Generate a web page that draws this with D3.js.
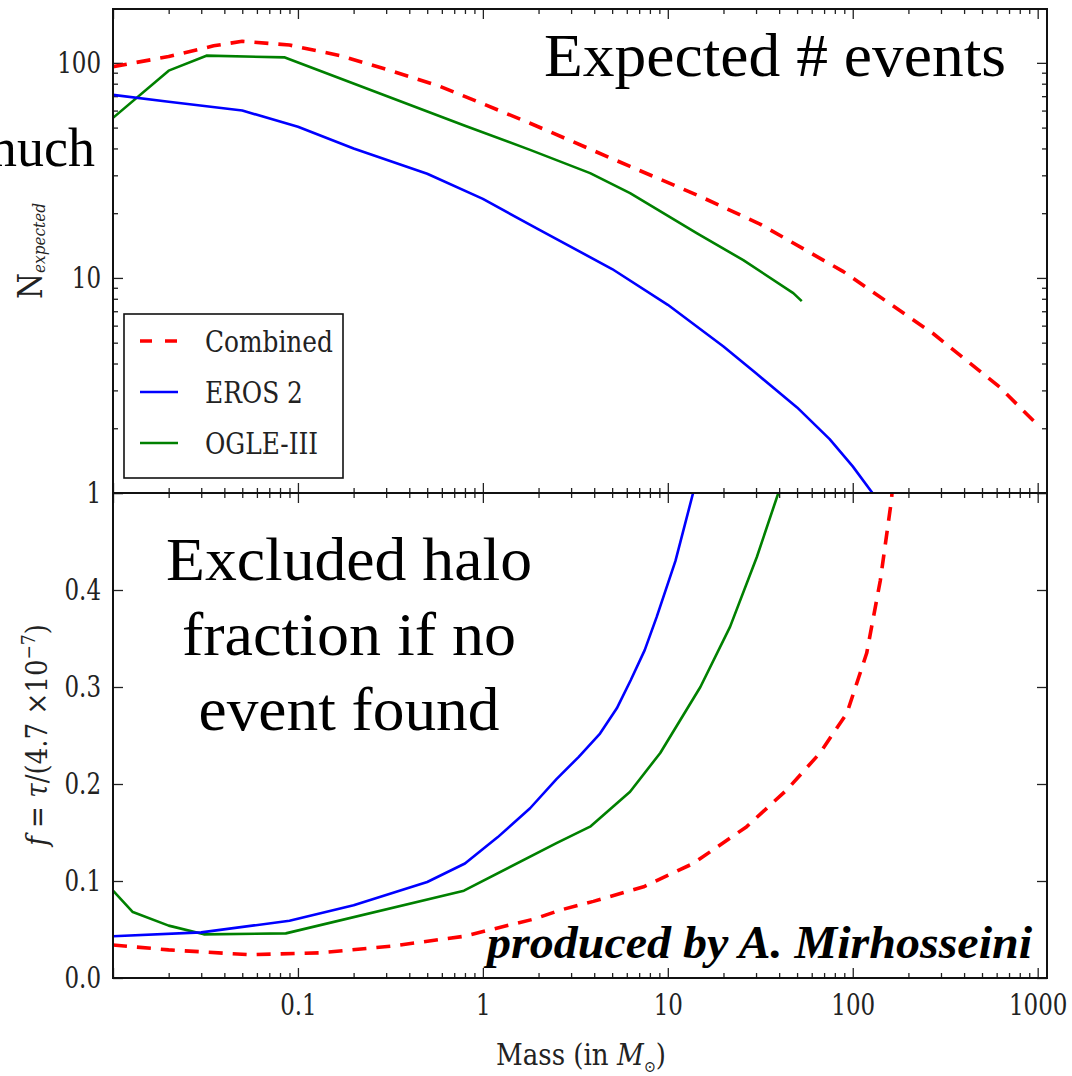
<!DOCTYPE html>
<html>
<head>
<meta charset="utf-8">
<script src="https://cdn.jsdelivr.net/npm/d3@7"></script>
<style>
  body { margin: 0; background: #fff; }
  svg { display: block; }
</style>
</head>
<body>
<script>
'use strict';

// page size
let width = 1072,
  height = 1076;

// ---- data ----
// top panel: expected number of events
const combinedNMass = [0.01, 0.02, 0.035, 0.05, 0.09, 0.17, 0.33, 0.59, 1, 1.8, 6.25, 15, 31.5, 89, 273, 625, 1000];
const combinedN = [96, 107, 120, 126, 121, 108, 91, 77.6, 64.5, 52.4, 33, 23.9, 17.8, 10.7, 5.5, 3.1, 2.07];

const erosNMass = [0.01, 0.02, 0.05, 0.1, 0.2, 0.5, 1, 2, 5, 10, 20, 30, 50, 75, 100, 130];
const erosN = [71, 66, 60, 50.5, 40, 30.5, 23.3, 16.8, 11, 7.5, 4.8, 3.6, 2.5, 1.78, 1.33, 0.98];

const ogleNMass = [0.01, 0.02, 0.032, 0.085, 0.8, 1.8, 3.8, 6.25, 14.4, 25.6, 47.7, 53];
const ogleN = [55.5, 92, 108, 106, 51, 39.4, 30.7, 24.8, 16.1, 12.1, 8.5, 7.8];

// bottom panel: excluded halo fraction
const combinedFMass = [0.01, 0.02, 0.055, 0.133, 0.324, 0.79, 1.91, 2.62, 3.96, 7.4, 13.7, 26.7, 44, 66.5, 93, 119, 141, 162, 166];
const combinedF = [0.034, 0.029, 0.024, 0.026, 0.033, 0.043, 0.061, 0.070, 0.079, 0.094, 0.118, 0.156, 0.194, 0.232, 0.273, 0.335, 0.41, 0.493, 0.52];

const erosFMass = [0.01, 0.03, 0.09, 0.2, 0.5, 0.8, 1.2, 1.8, 2.5, 3.3, 4.3, 5.3, 6.3, 7.5, 8.7, 11, 13.7, 14.2];
const erosF = [0.043, 0.047, 0.059, 0.075, 0.099, 0.118, 0.145, 0.175, 0.205, 0.228, 0.252, 0.278, 0.307, 0.338, 0.372, 0.43, 0.5, 0.52];

const ogleFMass = [0.01, 0.0128, 0.02, 0.031, 0.086, 0.79, 2.5, 3.8, 6.25, 9.1, 15, 21.7, 30.3, 39.6, 41];
const ogleF = [0.090, 0.068, 0.054, 0.045, 0.046, 0.090, 0.139, 0.156, 0.192, 0.232, 0.300, 0.362, 0.434, 0.5, 0.52];

// ticks
const xMajor = [0.01, 0.1, 1, 10, 100, 1000];
const xLabels = ["", "0.1", "1", "10", "100", "1000"];
const nMajor = [1, 10, 100];
const fMajor = [0, 0.1, 0.2, 0.3, 0.4, 0.5];

// legend entries
const seriesNames = ["Combined", "EROS 2", "OGLE-III"];
const seriesColors = ["#ff0000", "#0000ff", "#008000"];

// fonts
const plotFont = "DejaVu Serif Condensed";
const slideFont = "Liberation Serif";

// ---- layout ----
const plotL = 113, plotR = 1047, plotT = 9, plotM = 493, plotB = 978;

const svg = d3.select("body").append("svg")
  .attr("width", width)
  .attr("height", height);

const x = d3.scaleLog().domain([0.01, 1123]).range([plotL, plotR]);
const yN = d3.scaleLog().domain([1, 178]).range([plotM, plotT]);
const yF = d3.scaleLinear().domain([0, 0.5]).range([plotB, plotM]);

// the plot texts are a bit narrower than the font, squeeze them
function squeeze(sel, k) {
  sel.each(function () {
    const w = this.getComputedTextLength();
    if (w > 0) {
      d3.select(this)
        .attr("textLength", w * k)
        .attr("lengthAdjust", "spacingAndGlyphs");
    }
  });
}

// minor ticks for log axes
function logMinor(lo, hi) {
  let out = [];
  for (let e = Math.floor(Math.log10(lo)); e <= Math.ceil(Math.log10(hi)); e++) {
    for (let k = 2; k <= 9; k++) {
      let v = k * Math.pow(10, e);
      if (v > lo && v < hi) out.push(v);
    }
  }
  return out;
}
const xMinor = logMinor(0.01, 1123);
const nMinor = logMinor(1, 178);

// clip paths
const defs = svg.append("defs");
defs.append("clipPath").attr("id", "clipTop")
  .append("rect").attr("x", plotL).attr("y", plotT).attr("width", plotR - plotL).attr("height", plotM - plotT);
defs.append("clipPath").attr("id", "clipBot")
  .append("rect").attr("x", plotL).attr("y", plotM).attr("width", plotR - plotL).attr("height", plotB - plotM);

// draw ticks on all four sides of a panel
function drawTicks(yScale, yMajorVals, yMinorVals, y0, y1, showX, yFmt) {
  const g = svg.append("g");
  // bottom
  g.append("g").attr("transform", `translate(0,${y1})`)
    .call(d3.axisBottom(x).tickValues(xMajor).tickSize(-10).tickPadding(16)
      .tickFormat((d, i) => showX ? xLabels[i] : ""));
  g.append("g").attr("transform", `translate(0,${y1})`)
    .call(d3.axisBottom(x).tickValues(xMinor).tickSize(-5).tickFormat(""));
  // top
  g.append("g").attr("transform", `translate(0,${y0})`)
    .call(d3.axisTop(x).tickValues(xMajor).tickSize(-10).tickFormat(""));
  g.append("g").attr("transform", `translate(0,${y0})`)
    .call(d3.axisTop(x).tickValues(xMinor).tickSize(-5).tickFormat(""));
  // left
  g.append("g").attr("transform", `translate(${plotL},0)`)
    .call(d3.axisLeft(yScale).tickValues(yMajorVals).tickSize(-10).tickPadding(12).tickFormat(yFmt));
  // right
  g.append("g").attr("transform", `translate(${plotR},0)`)
    .call(d3.axisRight(yScale).tickValues(yMajorVals).tickSize(-10).tickFormat(""));
  if (yMinorVals.length) {
    g.append("g").attr("transform", `translate(${plotL},0)`)
      .call(d3.axisLeft(yScale).tickValues(yMinorVals).tickSize(-5).tickFormat(""));
    g.append("g").attr("transform", `translate(${plotR},0)`)
      .call(d3.axisRight(yScale).tickValues(yMinorVals).tickSize(-5).tickFormat(""));
  }
  g.selectAll(".domain").remove();
  g.selectAll(".tick line").attr("stroke", "#222").attr("stroke-width", 1.3);
  g.selectAll(".tick text")
    .style("font-family", plotFont)
    .style("font-size", "29px")
    .attr("fill", "#222")
    .call(squeeze, 0.88);
  return g;
}

drawTicks(yN, nMajor, nMinor, plotT, plotM, false, d => d3.format("d")(d));
drawTicks(yF, fMajor, [], plotM, plotB, true, d => d === 0.5 ? "" : d3.format(".1f")(d));

// curves
function drawCurve(clip, yScale, mass, vals, color, dashed) {
  const pts = mass.map((m, i) => [m, vals[i]]);
  const line = d3.line().x(d => x(d[0])).y(d => yScale(d[1]));
  svg.append("path")
    .attr("clip-path", `url(#${clip})`)
    .attr("d", line(pts))
    .attr("fill", "none")
    .attr("stroke", color)
    .attr("stroke-width", dashed ? 3.6 : 2.6)
    .attr("stroke-dasharray", dashed ? "14,10" : null)
    .attr("stroke-linejoin", "round");
}

drawCurve("clipTop", yN, ogleNMass, ogleN, seriesColors[2], false);
drawCurve("clipTop", yN, erosNMass, erosN, seriesColors[1], false);
drawCurve("clipTop", yN, combinedNMass, combinedN, seriesColors[0], true);

drawCurve("clipBot", yF, ogleFMass, ogleF, seriesColors[2], false);
drawCurve("clipBot", yF, erosFMass, erosF, seriesColors[1], false);
drawCurve("clipBot", yF, combinedFMass, combinedF, seriesColors[0], true);

// panel frames
[[plotT, plotM], [plotM, plotB]].forEach(([a, b]) => {
  svg.append("rect")
    .attr("x", plotL).attr("y", a)
    .attr("width", plotR - plotL).attr("height", b - a)
    .attr("fill", "none")
    .attr("stroke", "#111")
    .attr("stroke-width", 2);
});

// legend
const legend = svg.append("g").attr("transform", "translate(124,314)");
legend.append("rect")
  .attr("width", 219).attr("height", 164)
  .attr("fill", "#fff")
  .attr("stroke", "#111")
  .attr("stroke-width", 1.6);
seriesNames.forEach((name, i) => {
  const yy = 27 + i * 51;
  legend.append("line")
    .attr("x1", 16).attr("x2", 54)
    .attr("y1", yy).attr("y2", yy)
    .attr("stroke", seriesColors[i])
    .attr("stroke-width", i === 0 ? 3.6 : 2.6)
    .attr("stroke-dasharray", i === 0 ? "12,13" : null);
  legend.append("text")
    .attr("x", 81).attr("y", yy + 11)
    .style("font-family", plotFont)
    .style("font-size", "30px")
    .attr("fill", "#222")
    .text(name)
    .call(squeeze, 0.92);
});

// axis titles
const yTitle1 = svg.append("text")
  .attr("transform", "translate(42,251) rotate(-90)")
  .attr("text-anchor", "middle")
  .style("font-family", plotFont)
  .attr("fill", "#222");
yTitle1.append("tspan").style("font-size", "33px").text("N");
yTitle1.append("tspan").style("font-size", "17px").style("font-style", "italic")
  .attr("dy", 3).text("expected");

const yTitle2 = svg.append("text")
  .attr("transform", "translate(47,735) rotate(-90)")
  .attr("text-anchor", "middle")
  .style("font-family", plotFont)
  .style("font-size", "29px")
  .attr("fill", "#222");
yTitle2.append("tspan").style("font-style", "italic").text("f");
yTitle2.append("tspan").text(" = ");
yTitle2.append("tspan").style("font-style", "italic").text("τ");
yTitle2.append("tspan").text("/(4.7 ×10");
yTitle2.append("tspan").style("font-size", "19px").attr("dy", -12).text("−7");
yTitle2.append("tspan").attr("dy", 12).text(")");

const xTitle = svg.append("text")
  .attr("x", 581).attr("y", 1065)
  .attr("text-anchor", "middle")
  .style("font-family", plotFont)
  .style("font-size", "29px")
  .attr("fill", "#222");
xTitle.append("tspan").text("Mass (in ");
xTitle.append("tspan").style("font-style", "italic").text("M");
xTitle.append("tspan").style("font-size", "16px").attr("dy", 7).text("⊙");
xTitle.append("tspan").attr("dy", -7).text(")");

// annotations
svg.append("text")
  .attr("x", 1006).attr("y", 76)
  .attr("text-anchor", "end")
  .style("font-family", slideFont)
  .style("font-size", "62px")
  .attr("textLength", 462)
  .attr("lengthAdjust", "spacingAndGlyphs")
  .text("Expected # events");

// slide text running in from the left edge
svg.append("text")
  .attr("x", 95).attr("y", 166)
  .attr("text-anchor", "end")
  .style("font-family", slideFont)
  .style("font-size", "54px")
  .text("much");

const haloLines = ["Excluded halo", "fraction if no", "event found"];
const haloWidths = [366, 334, 301];
haloLines.forEach((t, i) => {
  svg.append("text")
    .attr("x", 349).attr("y", 580 + i * 75)
    .attr("text-anchor", "middle")
    .style("font-family", slideFont)
    .style("font-size", "62px")
    .attr("textLength", haloWidths[i])
    .attr("lengthAdjust", "spacingAndGlyphs")
    .text(t);
});

svg.append("text")
  .attr("x", 1032).attr("y", 958)
  .attr("text-anchor", "end")
  .style("font-family", slideFont)
  .style("font-size", "47px")
  .style("font-weight", "bold")
  .style("font-style", "italic")
  .attr("textLength", 545)
  .attr("lengthAdjust", "spacingAndGlyphs")
  .text("produced by A. Mirhosseini");
</script>
</body>
</html>
